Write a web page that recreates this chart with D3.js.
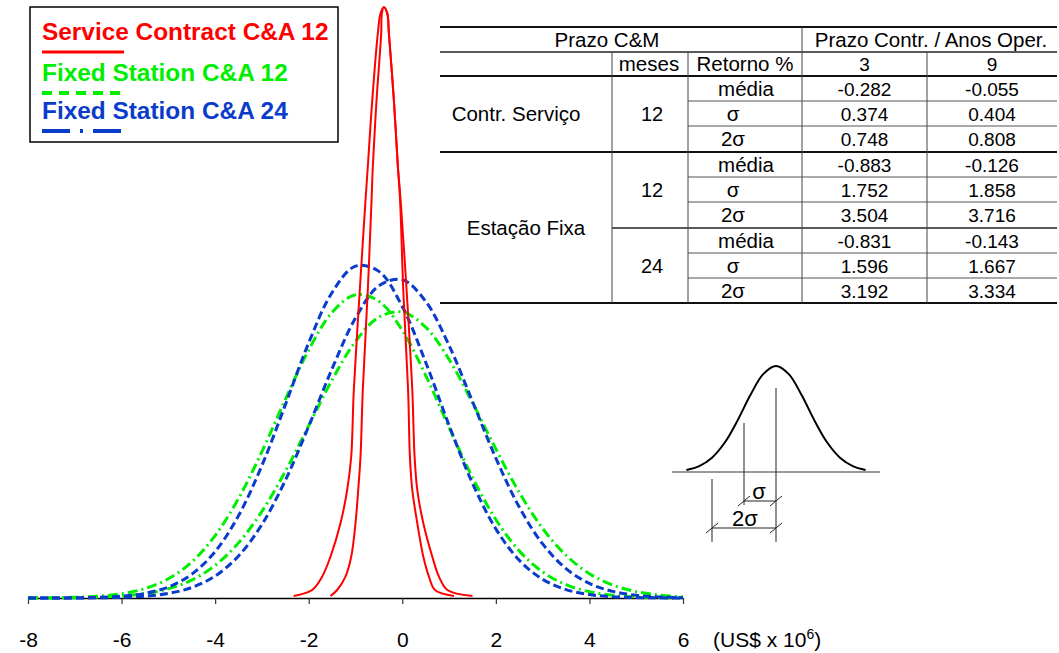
<!DOCTYPE html>
<html>
<head>
<meta charset="utf-8">
<script src="https://d3js.org/d3.v7.min.js"></script>
<style>
  body { margin: 0; background: #fff; }
  text { font-family: Arial, "Liberation Sans", sans-serif; }
</style>
</head>
<body>
<div id="chart"></div>
<script>
// ---- data ----
// x axis ticks (US$ x 10^6)
let arrXTicks = [-8, -6, -4, -2, 0, 2, 4, 6];

// sample positions for the fixed station curves
let arrXGrid = [-8, -7.5, -7, -6.5, -6, -5.5, -5, -4.5, -4, -3.5, -3, -2.5, -2, -1.5, -1,
  -0.5, 0, 0.5, 1, 1.5, 2, 2.5, 3, 3.5, 4, 4.5, 5, 5.5, 6];

// fixed station C&A 12 (green), 3 and 9 years
let arrGreen3 = [0.00006, 0.00018, 0.00051, 0.00133, 0.0032, 0.00707, 0.0144, 0.0270, 0.0468, 0.0746,
  0.1097, 0.1487, 0.1858, 0.2140, 0.2272, 0.2223, 0.2005, 0.1668, 0.1278, 0.0903, 0.0588, 0.0353,
  0.0195, 0.00996, 0.00468, 0.00203, 0.00081, 0.0003, 0.0001];
let arrGreen9 = [0.00003, 0.00008, 0.00023, 0.0006, 0.00145, 0.00327, 0.00688, 0.01344, 0.0244, 0.0413,
  0.0649, 0.0949, 0.1291, 0.1634, 0.1922, 0.2104, 0.2142, 0.2029, 0.1787, 0.1464, 0.1116, 0.0791,
  0.0521, 0.0320, 0.0182, 0.00968, 0.00477, 0.00219, 0.00094];

// fixed station C&A 24 (blue), 3 and 9 years
let arrBlue3 = [0.00001, 0.00004, 0.00014, 0.00046, 0.00132, 0.00346, 0.00824, 0.0178, 0.0348, 0.0617,
  0.0993, 0.1447, 0.1912, 0.2289, 0.2486, 0.2447, 0.2183, 0.1766, 0.1294, 0.0860, 0.0518, 0.0283,
  0.0140, 0.0063, 0.00256, 0.00094, 0.00032, 0.0001, 0.00003];
let arrBlue9 = [0.0, 0.00001, 0.00005, 0.00017, 0.0005, 0.00137, 0.00343, 0.00786, 0.01646, 0.0315,
  0.0551, 0.0881, 0.1287, 0.1718, 0.2097, 0.2339, 0.2384, 0.2222, 0.1892, 0.1473, 0.1048, 0.0681,
  0.0405, 0.0220, 0.0109, 0.00495, 0.00205, 0.00078, 0.00027];

// service contract C&A 12 (red), two narrow curves
let arrRedAX = [-2.321, -1.927, -1.713, -1.535, -1.321, -1.178, -1.092, -1.036, -0.908, -0.786, -0.737,
  -0.642, -0.522, -0.464, -0.394, -0.321, -0.287, -0.180, -0.094, -0.036, 0.092, 0.214, 0.263, 0.321,
  0.450, 0.642, 0.784, 0.964, 1.499];
let arrRedBX = [-1.535, -1.392, -1.214, -1.092, -1.0, -0.942, -0.893, -0.844, -0.737, -0.657, -0.630,
  -0.550, -0.450, -0.436, -0.394, -0.321, -0.287, -0.180, -0.094, -0.047, 0.021, 0.124, 0.163, 0.214,
  0.321, 0.450, 0.570, 0.698, 1.105];
let arrRedY = [0.0015, 0.0060, 0.0160, 0.0309, 0.0560, 0.0809, 0.1058, 0.1558, 0.2307, 0.2981, 0.3231,
  0.3730, 0.4232, 0.4380, 0.4425, 0.4380, 0.4232, 0.3730, 0.3231, 0.2981, 0.2307, 0.1558, 0.1058, 0.0809,
  0.0560, 0.0309, 0.0160, 0.0060, 0.0015];

// legend
let arrLegend = ["Service Contract C&A 12", "Fixed Station C&A 12", "Fixed Station C&A 24"];

// table
let arrYears = ["3", "9"];
let arrStats = ["média", "σ", "2σ"];
let arrServ12 = [[-0.282, -0.055], [0.374, 0.404], [0.748, 0.808]];
let arrFixa12 = [[-0.883, -0.126], [1.752, 1.858], [3.504, 3.716]];
let arrFixa24 = [[-0.831, -0.143], [1.596, 1.667], [3.192, 3.334]];

// sigma sketch (in units of sigma, relative height)
let arrIconZ = [-2.8, -2.4, -2, -1.6, -1.2, -0.8, -0.4, 0, 0.4, 0.8, 1.2, 1.6, 2, 2.4, 2.8];
let arrIconH = [0.0198, 0.0561, 0.1353, 0.278, 0.4868, 0.7261, 0.9231, 1, 0.9231, 0.7261, 0.4868, 0.278,
  0.1353, 0.0561, 0.0198];

// ---- drawing ----
let intTotalWid = 1059;
let intTotalHgt = 653;
let strRed = "#ff0000";
let strGreen = "#00ee00";
let strBlue = "#0a3ccc";
let strFont = "Arial, 'Liberation Sans', sans-serif";

let svg = d3.select("#chart")
  .append("svg")
  .attr("width", intTotalWid)
  .attr("height", intTotalHgt);

// 1) scales
let fnXScale = d3.scaleLinear().domain([-8, 6]).range([28, 683]);
let fnYScale = d3.scaleLinear().domain([0, 0.448]).range([598, 0]);

// 2) x axis
let fnXAxis = d3.axisBottom(fnXScale)
  .tickValues(arrXTicks)
  .tickSize(6)
  .tickSizeOuter(0)
  .tickPadding(28)
  .tickFormat(d => String(d));

let gAxis = svg.append("g")
  .attr("transform", `translate(0, ${fnYScale(0)})`)
  .call(fnXAxis)
  .attr("font-family", strFont)
  .attr("font-size", 21);
gAxis.select(".domain").attr("stroke", "#000").attr("stroke-width", 1.5);
gAxis.selectAll(".tick line").attr("stroke", "#333").attr("stroke-width", 1.2);
gAxis.selectAll(".tick text").attr("fill", "#000");

let txtUnit = svg.append("text")
  .attr("x", 713)
  .attr("y", 647)
  .attr("font-size", 21)
  .attr("fill", "#000")
  .text("(US$ x 10");
txtUnit.append("tspan").attr("font-size", 14).attr("dy", -8).text("6");
txtUnit.append("tspan").attr("dy", 8).text(")");

// 3) curves
let fnLine = d3.line()
  .x(d => fnXScale(d.x))
  .y(d => fnYScale(d.y))
  .curve(d3.curveCatmullRom.alpha(0.5));

let arrCurves = [
  { pts: arrXGrid.map((x, i) => ({ x: x, y: arrGreen3[i] })), color: strGreen, dash: "10,4,2,4", w: 3 },
  { pts: arrXGrid.map((x, i) => ({ x: x, y: arrGreen9[i] })), color: strGreen, dash: "10,4,2,4", w: 3 },
  { pts: arrXGrid.map((x, i) => ({ x: x, y: arrBlue3[i] })), color: strBlue, dash: "8,4", w: 3 },
  { pts: arrXGrid.map((x, i) => ({ x: x, y: arrBlue9[i] })), color: strBlue, dash: "8,4", w: 3 },
  { pts: arrRedAX.map((x, i) => ({ x: x, y: arrRedY[i] })), color: strRed, dash: null, w: 2 },
  { pts: arrRedBX.map((x, i) => ({ x: x, y: arrRedY[i] })), color: strRed, dash: null, w: 2 }
];

arrCurves.forEach(obj => {
  svg.append("path")
    .datum(obj.pts)
    .attr("d", fnLine)
    .attr("fill", "none")
    .attr("stroke", obj.color)
    .attr("stroke-width", obj.w)
    .attr("stroke-dasharray", obj.dash);
});

// 4) legend
svg.append("rect")
  .attr("x", 30).attr("y", 7)
  .attr("width", 308).attr("height", 135)
  .attr("fill", "#fff")
  .attr("stroke", "#000")
  .attr("stroke-width", 1.5);

let arrLegColor = [strRed, strGreen, strBlue];
let arrLegDash = [null, "10,7", "28,10,3,10"];
let arrLegBase = [40, 81, 119];
arrLegend.forEach((str, i) => {
  svg.append("text")
    .attr("x", 42)
    .attr("y", arrLegBase[i])
    .attr("font-size", 24.4)
    .attr("font-weight", "bold")
    .attr("fill", arrLegColor[i])
    .text(str);
  svg.append("line")
    .attr("x1", 42).attr("x2", 124)
    .attr("y1", arrLegBase[i] + 12).attr("y2", arrLegBase[i] + 12)
    .attr("stroke", arrLegColor[i])
    .attr("stroke-width", i == 0 ? 3 : 4)
    .attr("stroke-dasharray", arrLegDash[i]);
});

// 5) table
let arrColX = [440, 612, 688, 802, 927, 1057];
let arrRowY = [27, 52, 76, 101, 126, 152, 177, 202, 228, 253, 278, 303];
let gTab = svg.append("g").attr("fill", "#000");

function fnHLine(x1, x2, y, w, c) {
  gTab.append("line").attr("x1", x1).attr("x2", x2).attr("y1", y).attr("y2", y)
    .attr("stroke", c).attr("stroke-width", w);
}
function fnVLine(x, y1, y2) {
  gTab.append("line").attr("x1", x).attr("x2", x).attr("y1", y1).attr("y2", y2)
    .attr("stroke", "#444").attr("stroke-width", 1);
}
function fnCell(str, x, yTop, yBot, intSize) {
  gTab.append("text")
    .attr("x", x)
    .attr("y", (yTop + yBot) / 2 + 7)
    .attr("text-anchor", "middle")
    .attr("font-size", intSize)
    .text(str);
}

// horizontal rules
fnHLine(440, 1057, arrRowY[0], 2, "#111");
fnHLine(440, 1057, arrRowY[1], 1.5, "#222");
fnHLine(440, 1057, arrRowY[2], 2, "#111");
fnHLine(440, 1057, arrRowY[5], 2, "#111");
fnHLine(612, 1057, arrRowY[8], 1.5, "#222");
fnHLine(440, 1057, arrRowY[11], 2, "#111");
[3, 4, 6, 7, 9, 10].forEach(r => fnHLine(688, 1057, arrRowY[r], 1, "#555"));

// vertical rules
fnVLine(arrColX[1], arrRowY[1], arrRowY[11]);
fnVLine(arrColX[2], arrRowY[1], arrRowY[11]);
fnVLine(arrColX[3], arrRowY[0], arrRowY[11]);
fnVLine(arrColX[4], arrRowY[1], arrRowY[11]);

// headers
fnCell("Prazo C&M", 607, arrRowY[0], arrRowY[1], 20.5);
fnCell("Prazo Contr. / Anos Oper.", 931, arrRowY[0], arrRowY[1], 20.5);
fnCell("meses", 649, arrRowY[1], arrRowY[2], 20.5);
fnCell("Retorno %", 745, arrRowY[1], arrRowY[2], 20.5);
arrYears.forEach((s, j) => fnCell(s, (arrColX[3 + j] + arrColX[4 + j]) / 2, arrRowY[1], arrRowY[2], 19));

// groups
fnCell("Contr. Serviço", 516, arrRowY[2], arrRowY[5], 20.5);
fnCell("Estação Fixa", 526, arrRowY[5], arrRowY[11], 20.5);
fnCell("12", 652, arrRowY[2], arrRowY[5], 20);
fnCell("12", 652, arrRowY[5], arrRowY[8], 20);
fnCell("24", 652, arrRowY[8], arrRowY[11], 20);

[arrServ12, arrFixa12, arrFixa24].forEach((arrG, g) => {
  arrG.forEach((arrRow, k) => {
    let r = 2 + g * 3 + k;
    fnCell(arrStats[k], k == 0 ? 746 : 733, arrRowY[r], arrRowY[r + 1], 20.5);
    arrRow.forEach((v, j) => {
      fnCell(v.toFixed(3), (arrColX[3 + j] + arrColX[4 + j]) / 2, arrRowY[r], arrRowY[r + 1], 19);
    });
  });
});

// 6) sigma sketch
let fnIconX = d3.scaleLinear().domain([0, 1]).range([776, 808]);
let fnIconY = d3.scaleLinear().domain([0, 1]).range([472, 366]);
let gIcon = svg.append("g");

gIcon.append("line").attr("x1", 672).attr("x2", 880).attr("y1", fnIconY(0)).attr("y2", fnIconY(0))
  .attr("stroke", "#777").attr("stroke-width", 1.5);
gIcon.append("path")
  .datum(arrIconZ.map((z, i) => [fnIconX(z), fnIconY(arrIconH[i])]))
  .attr("d", d3.line().curve(d3.curveCatmullRom.alpha(0.5)))
  .attr("fill", "none")
  .attr("stroke", "#000")
  .attr("stroke-width", 2);

[[0, 388, 542], [-1, 423, 505], [-2, 479, 542]].forEach(a => {
  gIcon.append("line").attr("x1", fnIconX(a[0])).attr("x2", fnIconX(a[0]))
    .attr("y1", a[1]).attr("y2", a[2])
    .attr("stroke", "#222").attr("stroke-width", 1);
});
[[-1, 501], [-2, 528]].forEach(a => {
  gIcon.append("line").attr("x1", fnIconX(a[0])).attr("x2", fnIconX(0))
    .attr("y1", a[1]).attr("y2", a[1])
    .attr("stroke", "#222").attr("stroke-width", 1);
  [a[0], 0].forEach(z => {
    gIcon.append("line")
      .attr("x1", fnIconX(z) - 6).attr("x2", fnIconX(z) + 6)
      .attr("y1", a[1] + 5).attr("y2", a[1] - 5)
      .attr("stroke", "#222").attr("stroke-width", 1);
  });
});
gIcon.append("text").attr("x", 759).attr("y", 499).attr("text-anchor", "middle")
  .attr("font-size", 22).text("σ");
gIcon.append("text").attr("x", 745).attr("y", 526).attr("text-anchor", "middle")
  .attr("font-size", 22).text("2σ");
</script>
</body>
</html>
